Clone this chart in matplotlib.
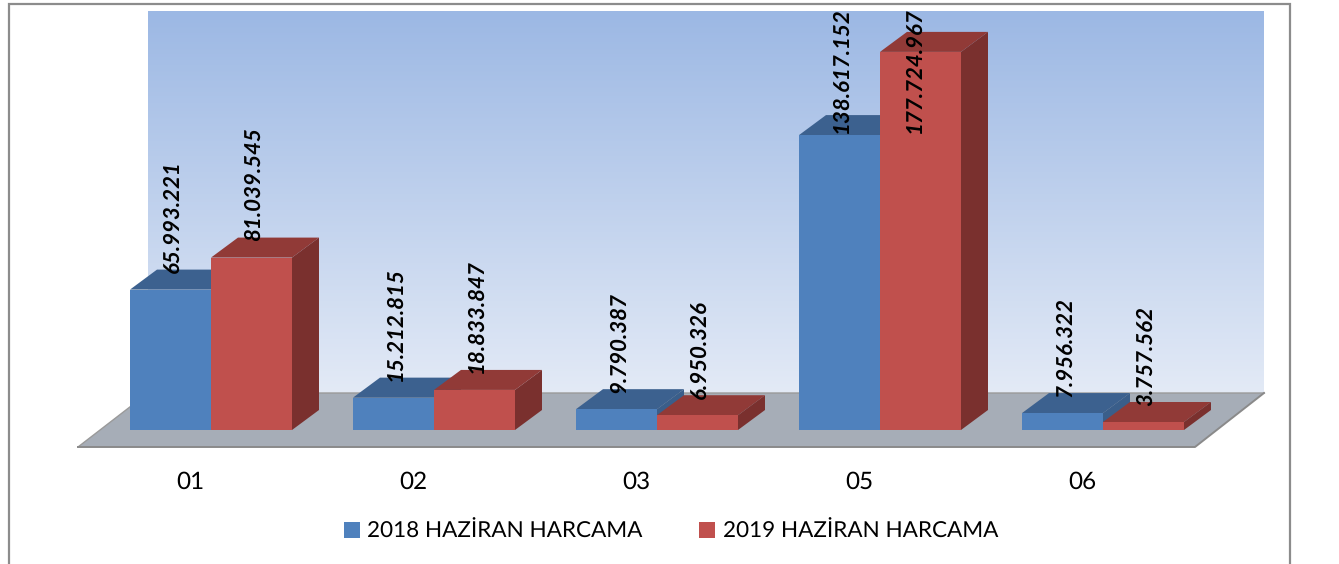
import numpy as np
import matplotlib
matplotlib.use('Agg')
import matplotlib.pyplot as plt
from matplotlib.patches import Rectangle, Patch
from matplotlib.colors import LinearSegmentedColormap

plt.rcParams['font.family'] = ['Lato', 'DejaVu Sans']
plt.rcParams['text.hinting'] = 'none'

categories = ['01', '02', '03', '05', '06']
series_2018 = [65993221, 15212815, 9790387, 138617152, 7956322]
series_2019 = [81039545, 18833847, 6950326, 177724967, 3757562]
labels_2018 = ['65.993.221', '15.212.815', '9.790.387', '138.617.152', '7.956.322']
labels_2019 = ['81.039.545', '18.833.847', '6.950.326', '177.724.967', '3.757.562']
legend_names = ['2018 HAZİRAN HARCAMA', '2019 HAZİRAN HARCAMA']

W, H = 1339, 564
fig = plt.figure(figsize=(W / 100, H / 100), dpi=100, facecolor='white')

# backdrop in pixel coords: frame, wall, floor
bg = fig.add_axes([0, 0, 1, 1])
bg.set_xlim(0, W)
bg.set_ylim(H, 0)
bg.axis('off')
bg.add_patch(Rectangle((8.5, 4), 1281.5, H + 10, fc='white', ec='#8c8c8c', lw=1.6))
cmap = LinearSegmentedColormap.from_list('wall', ['#9CB8E4', '#E3EAF6'])
bg.imshow(np.linspace(0, 1, 256).reshape(-1, 1), cmap=cmap, aspect='auto',
          extent=(148, 1264, 393, 11), zorder=1)
bg.set_xlim(0, W)
bg.set_ylim(H, 0)
bg.fill([78, 148, 1264, 1195], [447, 393, 393, 447], fc='#A6ADB7', ec='none', zorder=2)
bg.plot([78, 148, 1264], [447, 393, 393], color='#9a9a9a', lw=1, zorder=2)
bg.plot([78, 1195, 1264], [447, 447, 393], color='#8a8a8a', lw=1.4, zorder=2)

# bar axes: y=0 sits on the bar baseline
px_left, px_right, px_top, px_base = 78, 1264, 12, 430
ax = fig.add_axes([px_left / W, 1 - px_base / H, (px_right - px_left) / W, (px_base - px_top) / H])
ax.patch.set_alpha(0)
px_per_unit = 223.0
ax.set_xlim((px_left - 211) / px_per_unit, (px_right - 211) / px_per_unit)
px_per_val = 297 / 139.6e6
ax.set_ylim(0, (px_base - px_top) / px_per_val)

x = np.arange(len(categories))
width = 81 / px_per_unit
dx = 27 / px_per_unit
dy = 20 / px_per_val

colors = [('#4F81BD', '#3C618F', '#3A5E8A'), ('#C0504D', '#913A37', '#7A302E')]
for k in range(len(categories)):
    for s, vals in enumerate([series_2018, series_2019]):
        front, top, side = colors[s]
        left = x[k] - width + s * width
        v = vals[k]
        z = 3 + k * 3 + s
        ax.bar(left, v, width, align='edge', color=front, zorder=z + 0.5, clip_on=False)
        ax.fill([left, left + dx, left + width + dx, left + width],
                [v, v + dy, v + dy, v], fc=top, ec='none', zorder=z, clip_on=False)
        ax.fill([left + width, left + width + dx, left + width + dx, left + width],
                [0, dy, v + dy, v], fc=side, ec='none', zorder=z, clip_on=False)

# value labels, capped so the tallest stay inside the wall
offset = 16.5 / px_per_val
cap = 297 / px_per_val
for k in range(len(categories)):
    for s, (vals, labs) in enumerate([(series_2018, labels_2018), (series_2019, labels_2019)]):
        cx = x[k] + (s - 0.5) * width + 2 / px_per_unit
        if vals[k] > 170e6:
            cx -= 8 / px_per_unit
        ax.text(cx, min(vals[k] + offset, cap), labs[k], rotation=90, ha='center', va='bottom',
                fontsize=16, fontweight='bold', fontstyle='italic', color='black', zorder=60)

ax.set_xticks(x - 21 / px_per_unit)
ax.set_xticklabels(categories, fontsize=17.5)
ax.tick_params(axis='x', length=0, pad=29.5)
ax.set_yticks([])
for sp in ax.spines.values():
    sp.set_visible(False)

handles = [Patch(fc=colors[0][0]), Patch(fc=colors[1][0])]
ax.legend(handles, legend_names, ncol=2, frameon=False, fontsize=16.2, loc='center',
          bbox_to_anchor=(671 / W, 1 - 531.5 / H), bbox_transform=fig.transFigure,
          handlelength=0.72, handleheight=0.72, handletextpad=0.33, columnspacing=2.5)

fig.savefig('out.png', dpi=100, facecolor='white')
